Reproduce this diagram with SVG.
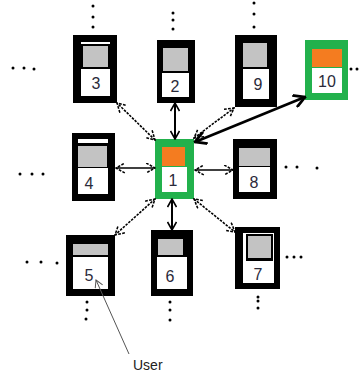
<svg xmlns="http://www.w3.org/2000/svg" width="359" height="379" viewBox="0 0 359 379">
<style>
.outer{fill:#000}
.green{fill:#22b14c}
.gray{fill:#c3c3c3}
.white{fill:#fff}
.orange{fill:#f47c20}
.num{font-family:"Liberation Sans",Arial,sans-serif;font-size:16px;fill:#2a2a3a;text-anchor:middle}
.dot{fill:#000}
.dash{stroke:#000;stroke-width:1.6;fill:none;stroke-dasharray:2.5 1.2}
.solid{stroke:#000;stroke-width:2;fill:none}
.thick{stroke:#000;stroke-width:2.6;fill:none}
.user{stroke:#555;stroke-width:1;fill:none}
</style>
<defs>
<marker id="ah" viewBox="0 0 10 10" refX="9" refY="5" markerWidth="11" markerHeight="11" markerUnits="userSpaceOnUse" orient="auto-start-reverse">
<path d="M1,0.5 L9,5 L1,9.5" fill="none" stroke="#000" stroke-width="1.4" stroke-dasharray="2.5 1.2"/>
</marker>
<marker id="ahs" viewBox="0 0 10 10" refX="9" refY="5" markerWidth="10" markerHeight="10" markerUnits="userSpaceOnUse" orient="auto-start-reverse">
<path d="M1,0.5 L9,5 L1,9.5" fill="none" stroke="#000" stroke-width="1.6"/>
</marker>
<marker id="aht" viewBox="0 0 10 10" refX="9" refY="5" markerWidth="14" markerHeight="14" markerUnits="userSpaceOnUse" orient="auto-start-reverse">
<path d="M1,0.5 L9,5 L1,9.5" fill="none" stroke="#000" stroke-width="2"/>
</marker>
<marker id="ahu" viewBox="0 0 10 10" refX="9" refY="5" markerWidth="9" markerHeight="9" markerUnits="userSpaceOnUse" orient="auto">
<path d="M1,0.5 L9,5 L1,9.5" fill="none" stroke="#555" stroke-width="1.1"/>
</marker>
</defs>

<g id="node3">
<rect class="outer" x="73" y="35" width="44" height="68"/>
<rect class="white" x="81" y="42" width="29" height="2"/>
<rect class="gray" x="83" y="46" width="25" height="21"/>
<rect class="white" x="81" y="69" width="29" height="27"/>
<text class="num" x="96" y="89">3</text>
</g>

<g id="node2">
<rect class="outer" x="157" y="40" width="38" height="63"/>
<rect class="gray" x="163" y="48" width="25" height="23"/>
<rect class="white" x="162" y="73" width="27" height="24"/>
<text class="num" x="175" y="92">2</text>
</g>

<g id="node9">
<rect class="outer" x="235" y="35" width="42" height="72"/>
<rect class="gray" x="243" y="43" width="24" height="24"/>
<rect class="white" x="243" y="69" width="26" height="30"/>
<text class="num" x="258" y="90">9</text>
</g>

<g id="node10">
<rect class="green" x="305" y="40" width="43" height="60"/>
<rect class="orange" x="312" y="49" width="30" height="18"/>
<rect class="white" x="312" y="68" width="30" height="25"/>
<text class="num" x="327" y="87">10</text>
</g>

<g id="node4">
<rect class="outer" x="72" y="133" width="43" height="68"/>
<rect class="white" x="78" y="139" width="30" height="4"/>
<rect class="gray" x="78" y="146" width="29" height="21"/>
<rect class="white" x="78" y="168" width="30" height="26"/>
<text class="num" x="89" y="189">4</text>
</g>

<g id="node1">
<rect class="green" x="155" y="139" width="39" height="60"/>
<rect class="orange" x="162" y="147" width="23" height="19"/>
<rect class="white" x="162" y="167" width="25" height="25"/>
<text class="num" x="173" y="186">1</text>
</g>

<g id="node8">
<rect class="outer" x="233" y="139" width="44" height="60"/>
<rect class="gray" x="239" y="148" width="31" height="18"/>
<rect class="white" x="239" y="167" width="31" height="25"/>
<text class="num" x="254" y="188">8</text>
</g>

<g id="node5">
<rect class="outer" x="66" y="235" width="49" height="61"/>
<rect class="gray" x="73" y="244" width="35" height="11"/>
<rect class="white" x="73" y="257" width="35" height="32"/>
<text class="num" x="89" y="281">5</text>
</g>

<g id="node6">
<rect class="outer" x="151" y="230" width="42" height="66"/>
<rect class="gray" x="158" y="239" width="25" height="16"/>
<rect class="white" x="157" y="257" width="30" height="32"/>
<text class="num" x="170" y="282">6</text>
</g>

<g id="node7">
<rect class="outer" x="235" y="227" width="45" height="62"/>
<rect class="white" x="243" y="233" width="31" height="50"/>
<rect class="outer" x="246" y="234" width="27" height="27"/>
<rect class="gray" x="248" y="236" width="23" height="22"/>
<text class="num" x="258" y="280">7</text>
</g>

<g id="user">
<text x="133" y="370" style="font-family:'Liberation Sans',Arial,sans-serif;font-size:14px;fill:#222">User</text>
</g>

<g id="connectors">
<line class="dash" x1="155" y1="140" x2="117" y2="103" marker-start="url(#ah)" marker-end="url(#ah)"/>
<line class="solid" x1="175" y1="139" x2="175" y2="103" marker-start="url(#ahs)" marker-end="url(#ahs)"/>
<line class="dash" x1="194" y1="138" x2="234" y2="108" marker-start="url(#ah)" marker-end="url(#ah)"/>
<line class="thick" x1="195" y1="142" x2="305" y2="97" marker-start="url(#aht)" marker-end="url(#aht)"/>
<line class="solid" style="stroke-width:1.5" x1="116" y1="168" x2="155" y2="168" marker-start="url(#ah)" marker-end="url(#ah)"/>
<line class="solid" style="stroke-width:1.5" x1="195" y1="170" x2="233" y2="170" marker-start="url(#ah)" marker-end="url(#ah)"/>
<line class="dash" x1="155" y1="199" x2="115" y2="235" marker-start="url(#ah)" marker-end="url(#ah)"/>
<line class="solid" x1="172" y1="199" x2="172" y2="230" marker-start="url(#ahs)" marker-end="url(#ahs)"/>
<line class="dash" x1="194" y1="199" x2="235" y2="232" marker-start="url(#ah)" marker-end="url(#ah)"/>
<line class="user" x1="129" y1="354" x2="96" y2="280" marker-end="url(#ahu)"/>
</g>

<g id="dots">
<circle class="dot" cx="93" cy="6" r="1.5"/><circle class="dot" cx="93" cy="17" r="1.5"/><circle class="dot" cx="93" cy="27" r="1.5"/>
<circle class="dot" cx="173" cy="13" r="1.5"/><circle class="dot" cx="173" cy="20" r="1.5"/><circle class="dot" cx="173" cy="29" r="1.5"/>
<circle class="dot" cx="254" cy="3" r="1.5"/><circle class="dot" cx="254" cy="14" r="1.5"/><circle class="dot" cx="254" cy="27" r="1.5"/>
<circle class="dot" cx="351" cy="69" r="1.5"/><circle class="dot" cx="357" cy="69" r="1.5"/>
<circle class="dot" cx="13" cy="68" r="1.5"/><circle class="dot" cx="24" cy="68" r="1.5"/><circle class="dot" cx="34" cy="69" r="1.5"/>
<circle class="dot" cx="20" cy="174" r="1.5"/><circle class="dot" cx="32" cy="174" r="1.5"/><circle class="dot" cx="43" cy="174" r="1.5"/>
<circle class="dot" cx="286" cy="167" r="1.5"/><circle class="dot" cx="297" cy="167" r="1.5"/><circle class="dot" cx="317" cy="168" r="1.5"/>
<circle class="dot" cx="27" cy="262" r="1.5"/><circle class="dot" cx="41" cy="262" r="1.5"/><circle class="dot" cx="57" cy="263" r="1.5"/>
<circle class="dot" cx="87" cy="302" r="1.5"/><circle class="dot" cx="87" cy="310" r="1.5"/><circle class="dot" cx="86" cy="319" r="1.5"/>
<circle class="dot" cx="170" cy="302" r="1.5"/><circle class="dot" cx="170" cy="310" r="1.5"/><circle class="dot" cx="170" cy="320" r="1.5"/>
<circle class="dot" cx="287" cy="257" r="1.5"/><circle class="dot" cx="294" cy="257" r="1.5"/><circle class="dot" cx="301" cy="257" r="1.5"/>
<circle class="dot" cx="258" cy="297" r="1.5"/><circle class="dot" cx="258" cy="301" r="1.5"/><circle class="dot" cx="258" cy="308" r="1.5"/>
</g>
</svg>
